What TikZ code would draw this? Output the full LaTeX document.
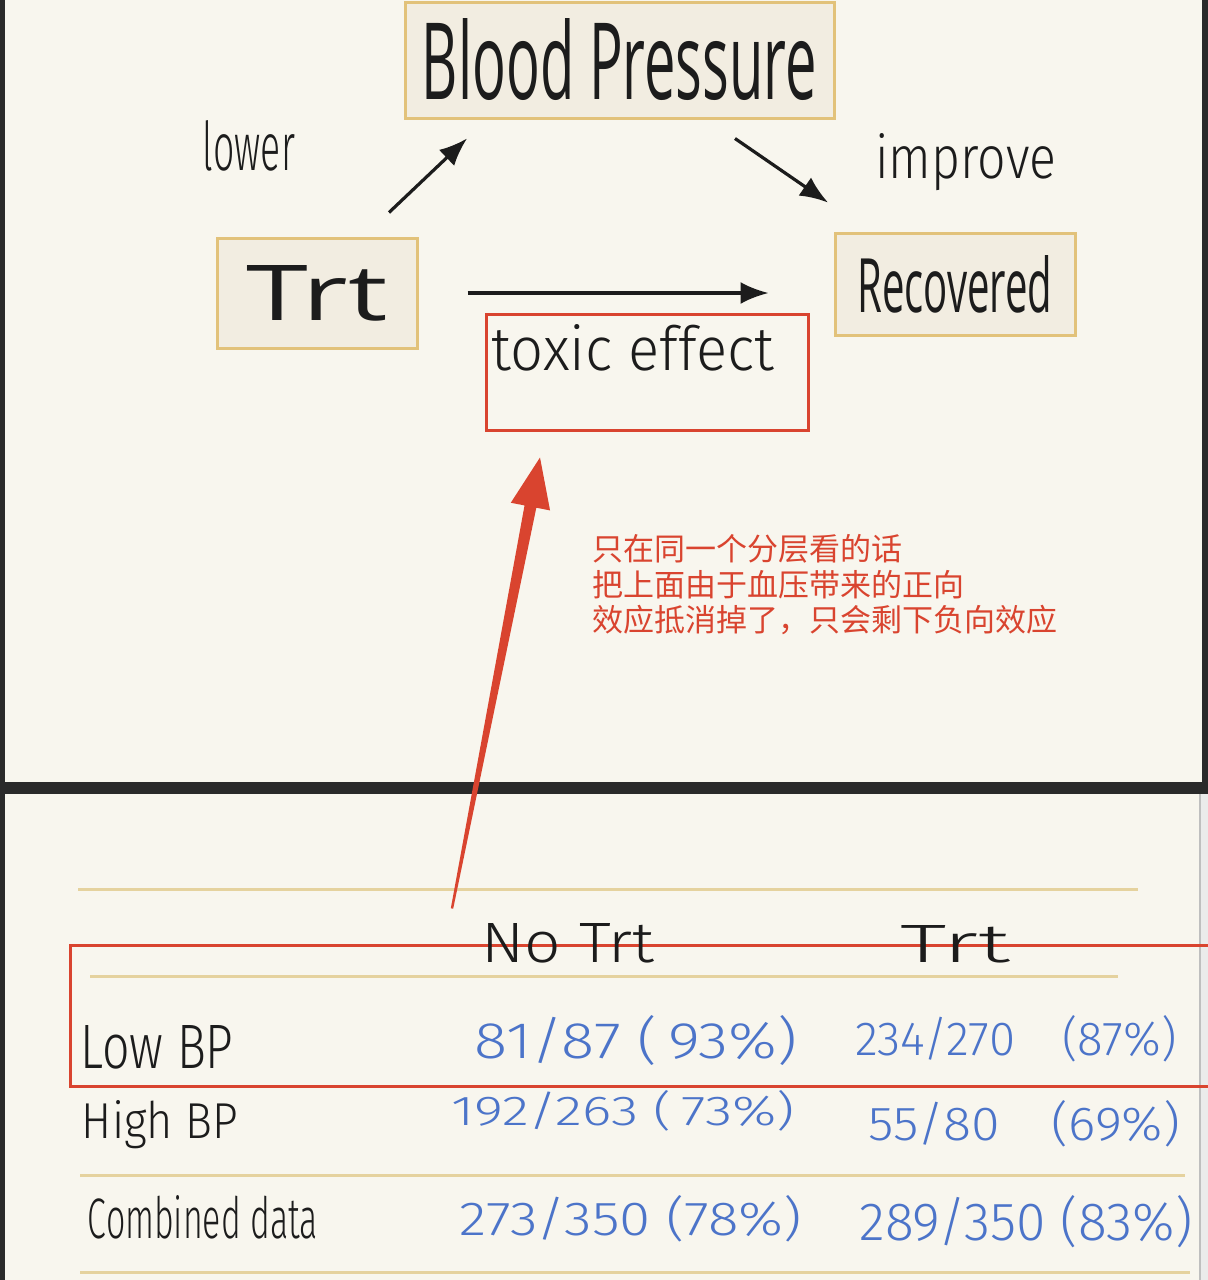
\documentclass[tikz,border=0pt]{standalone}
\usepackage{fontspec}
\usepackage{graphicx}
\setmainfont{Open Sans}
\newfontfamily\handfont{Fira Sans Light}
\newfontfamily\cjkfont{Noto Sans CJK SC}
\usetikzlibrary{arrows.meta,calc}
\definecolor{bgc}{HTML}{F8F6EE}
\definecolor{boxfill}{HTML}{F2EDE1}
\definecolor{boxdraw}{HTML}{E2C27A}
\definecolor{redc}{HTML}{D9442F}
\definecolor{bluec}{HTML}{4C74C9}
\definecolor{inkc}{HTML}{1C1C1C}
\definecolor{rulec}{HTML}{E5D29E}
\definecolor{framec}{HTML}{2A2A2A}
\newcommand{\hw}[3]{\resizebox{#1pt}{#2pt}{#3}}
\begin{document}
\begin{tikzpicture}[x=0.5pt,y=-0.5pt,
  pbox/.style={draw=boxdraw, line width=1.5pt, fill=boxfill, inner sep=0pt, text=inkc},
  redbox/.style={draw=redc, line width=1.5pt, inner sep=0pt},
  hand/.style={font=\handfont, text=inkc, inner sep=0pt, anchor=base},
  num/.style={font=\handfont, text=bluec, inner sep=0pt, anchor=base},
  arr/.style={draw=inkc, line width=1.6pt, -{Latex[length=14pt,width=11pt]}},
  tabrule/.style={draw=rulec, line width=1.5pt},
  note/.style={font=\cjkfont\fontsize{15.5pt}{18pt}\selectfont, text=redc, inner sep=0pt, anchor=base west}]
\useasboundingbox (0,0) rectangle (1208,1280);
% background and frame
\fill[bgc] (0,0) rectangle (1208,1280);
\fill[framec] (0,0) rectangle (5,1280);
\fill[framec] (1202,0) rectangle (1208,790);
\fill[framec] (0,782) rectangle (1208,794);
\fill[black!8] (1201,794) rectangle (1208,1280);
\draw[black!25, line width=0.6pt] (1200,794) -- (1200,1280);

% diagram boxes
\node[pbox, minimum width=214.5pt, minimum height=58pt] (bp) at (619.5,60) {\hw{197.5}{40.5}{Blood Pressure}};
\node[pbox, minimum width=100pt, minimum height=55pt] (trt) at (317,293) {\hw{70.5}{27.5}{Trt}};
\node[pbox, minimum width=120pt, minimum height=51pt] (rec) at (955,284) {\hw{97.5}{28.5}{Recovered}};
\node[redbox, minimum width=161pt, minimum height=58pt] (tox) at (647,372) {};
\node[hand] (toxtxt) at (633,370) {\hw{141.5}{23}{toxic effect}};
\node[hand] (lower) at (249,170) {\hw{46}{25}{lower}};
\node[hand] (improve) at (966,178) {\hw{90.5}{22.5}{improve}};

% arrows
\draw[arr] ($(trt.north)+(72,-24)$) -- ($(bp.south)+(-152.5,19)$);
\draw[arr] ($(bp.south)+(115.5,19)$) -- ($(rec.north)+(-127,-29)$);
\draw[arr] ($(trt.east)+(49,0)$) -- ($(rec.west)+(-65,9)$);

% note
\node[note] (note1) at (592,560) {只在同一个分层看的话};
\node[note] (note2) at (592,596) {把上面由于血压带来的正向};
\node[note] (note3) at (592,631) {效应抵消掉了，只会剩下负向效应};

% table
\draw[tabrule] (78,889) -- (1138,889);
\draw[tabrule] (90,976) -- (1118,976);
\draw[tabrule] (80,1175) -- (1185,1175);
\draw[tabrule] (80,1272) -- (1190,1272);
\node[redbox, minimum width=571pt, minimum height=70.5pt] (lowrow) at (641,1015.5) {};

\node[hand] (notrt) at (568,962) {\hw{86.5}{19.5}{No Trt}};
\node[hand] (trtcol) at (955,962) {\hw{55}{18.5}{Trt}};
\node[hand] (lowbp) at (157,1068) {\hw{76.5}{21.5}{Low BP}};
\node[hand] (highbp) at (160,1138) {\hw{78}{19}{High BP}};
\node[hand] (comb) at (203,1238) {\hw{115}{21.5}{Combined data}};

\node[num] (n11) at (636,1058) {\hw{161}{21.5}{81/87 (\,93\%)}};
\node[num] (n12) at (1016,1055) {\hw{161}{20}{234/270\quad(87\%)}};
\node[num] (n21) at (623,1125) {\hw{171.5}{17.5}{192/263 (\,73\%)}};
\node[num] (n22) at (1024,1140) {\hw{156}{20}{55/80\quad(69\%)}};
\node[num] (n31) at (631,1235) {\hw{171}{20}{273/350 (78\%)}};
\node[num] (n32) at (1026,1240) {\hw{166.5}{22.5}{289/350 (83\%)}};

% red tapered arrow from the table row to the toxic effect box
\coordinate (tail) at ($(lowrow.north)+(-189,-35)$);
\coordinate (tip) at ($(tox.south)+(-107,26)$);
\coordinate (hb) at ($(tip)!25pt!(tail)$);
\fill[redc] ($(tail)!0.6pt!90:(tip)$) -- ($(hb)!3pt!-90:(tail)$) -- ($(hb)!10pt!-90:(tail)$) -- (tip)
  -- ($(hb)!10pt!90:(tail)$) -- ($(hb)!3pt!90:(tail)$) -- ($(tail)!0.6pt!-90:(tip)$) -- cycle;
\end{tikzpicture}
\end{document}
